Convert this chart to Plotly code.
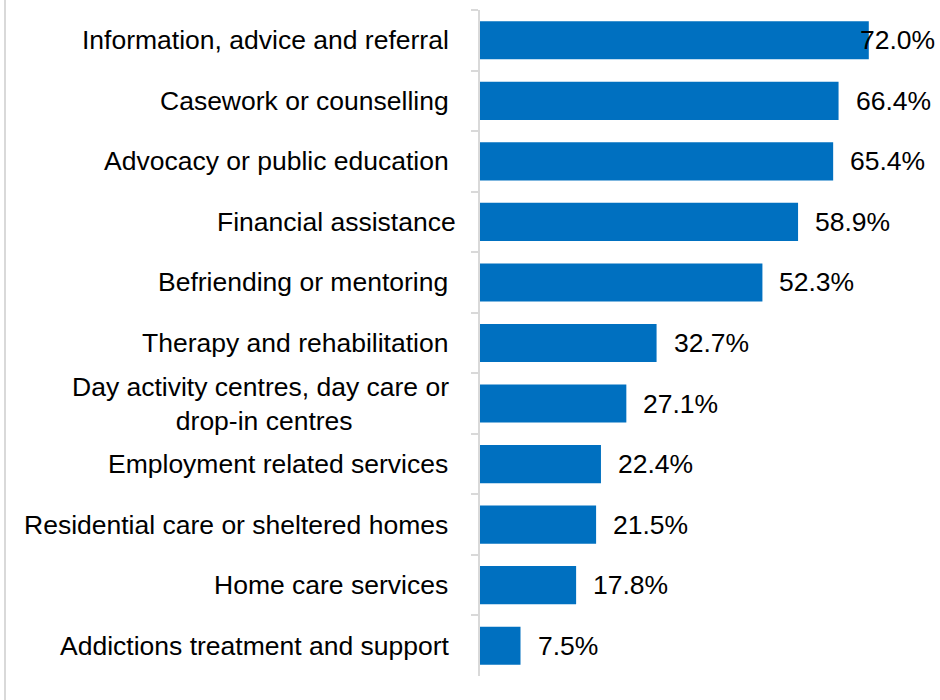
import plotly.graph_objects as go

# Services offered (share of organisations)
services = [
    "Information, advice and referral\u00a0",
    "Casework or counselling\u00a0",
    "Advocacy or public education\u00a0",
    "Financial assistance",
    "Befriending or mentoring\u00a0",
    "Therapy and rehabilitation\u00a0",
    "Day activity centres, day care or\u00a0<br>drop-in centres",
    "Employment related services\u00a0",
    "Residential care or sheltered homes\u00a0",
    "Home care services\u00a0",
    "Addictions treatment and support\u00a0",
]
shares = [72.0, 66.4, 65.4, 58.9, 52.3, 32.7, 27.1, 22.4, 21.5, 17.8, 7.5]
value_labels = [f"{v:.1f}%" for v in shares]

W, H = 940, 700
ML, MR, MT, MB = 480, 28, 10, 24
X_MAX = 80
plot_w = W - ML - MR
plot_h = H - MT - MB

FONT = "Arial, Liberation Sans, sans-serif"
BAR = "#0070C0"
GREY = "#D9D9D9"

cats = [f"c{i}" for i in range(len(services))]

fig = go.Figure(
    go.Bar(
        x=shares,
        y=cats,
        orientation="h",
        marker=dict(color=BAR, line=dict(width=0)),
        hoverinfo="skip",
    )
)

annotations = []
for c, name in zip(cats, services):
    annotations.append(dict(
        x=0, xref="paper", y=c, yref="y",
        text=name, showarrow=False,
        xanchor="right", yanchor="middle", align="center",
        xshift=-22,
        font=dict(family=FONT, size=26.5, color="#000000"),
    ))
for i, (c, v, lab) in enumerate(zip(cats, shares, value_labels)):
    annotations.append(dict(
        x=v, xref="x", y=c, yref="y",
        text=lab, showarrow=False,
        xanchor="left", yanchor="middle",
        xshift=-11 if i == 0 else 15,
        font=dict(family=FONT, size=26.5, color="#000000"),
    ))

fig.update_layout(
    width=W, height=H,
    margin=dict(l=ML, r=MR, t=MT, b=MB, pad=0),
    paper_bgcolor="white", plot_bgcolor="white",
    bargap=0.37,
    showlegend=False,
    annotations=annotations,
    shapes=[dict(
        type="line", xref="paper", yref="paper",
        x0=(5 - ML) / plot_w, x1=(5 - ML) / plot_w,
        y0=-MB / plot_h, y1=(H - MB) / plot_h,
        line=dict(color=GREY, width=2),
    )],
    xaxis=dict(range=[0, X_MAX], visible=False, showgrid=False, zeroline=False),
    yaxis=dict(
        type="category", autorange="reversed",
        showticklabels=False, showgrid=False, zeroline=False,
        showline=True, linecolor=GREY, linewidth=2,
        ticks="outside", ticklen=7, tickcolor=GREY, tickwidth=2,
        tickson="boundaries",
    ),
)

fig.write_html("out.html")
